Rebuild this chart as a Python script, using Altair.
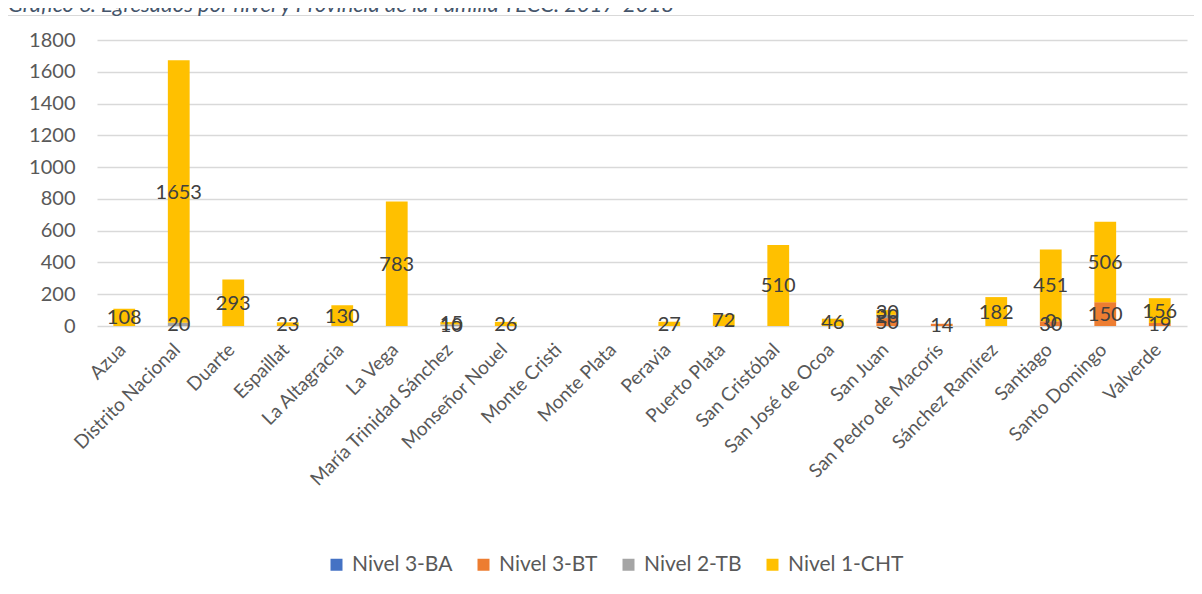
import altair as alt
import pandas as pd

title_text = "Gráfico 6. Egresados por nivel y Provincia de la Familia TECC. 2017-2018"

provinces = ["Azua", "Distrito Nacional", "Duarte", "Espaillat", "La Altagracia", "La Vega",
             "María Trinidad Sánchez", "Monseñor Nouel", "Monte Cristi", "Monte Plata", "Peravia",
             "Puerto Plata", "San Cristóbal", "San José de Ocoa", "San Juan", "San Pedro de Macorís",
             "Sánchez Ramírez", "Santiago", "Santo Domingo", "Valverde"]
series = ["Nivel 3-BA", "Nivel 3-BT", "Nivel 2-TB", "Nivel 1-CHT"]
colors = ["#4472C4", "#ED7D31", "#A5A5A5", "#FFC000"]

nivel3_ba = [None] * 20
nivel3_bt = [None, None, None, None, None, None, None, None, None, None,
             None, None, None, None, 50, 14, None, 30, 150, 19]
nivel2_tb = [None, 20, None, None, None, None, 10, None, None, None,
             None, None, None, None, 20, None, None, 0, None, None]
nivel1_cht = [108, 1653, 293, 23, 130, 783, 15, 26, None, None,
              27, 72, 510, 46, 30, None, 182, 451, 506, 156]
y_ticks = [0, 200, 400, 600, 800, 1000, 1200, 1400, 1600, 1800]

rows = []
for k, vals in enumerate([nivel3_ba, nivel3_bt, nivel2_tb, nivel1_cht]):
    for p, v in zip(provinces, vals):
        if v is not None:
            rows.append({"prov": p, "serie": series[k], "ord": k, "value": v})
df = pd.DataFrame(rows)

FONT = "Lato"
x_scale = alt.Scale(domain=provinces, paddingInner=0.6, paddingOuter=0.3)
x_axis = alt.Axis(title=None, labelAngle=-45, labelAlign="right", labelBaseline="top",
                  labelFontSize=19, labelColor="#595959", labelFont=FONT,
                  labelPadding=14, labelOffset=-8, ticks=False, domain=False, grid=False,
                  labelOverlap=False, labelLimit=400)
y_scale = alt.Scale(domain=[0, 1800], nice=False)
y_axis = alt.Axis(title=None, values=y_ticks, format="d", labelOverlap=False,
                  labelFontSize=20, labelColor="#595959",
                  labelFont=FONT, ticks=False, domain=False, labelPadding=22,
                  grid=True, gridColor="#D9D9D9", gridWidth=1.3)

bars = alt.Chart(df).mark_bar().encode(
    x=alt.X("prov:N", sort=provinces, scale=x_scale, axis=x_axis),
    y=alt.Y("value:Q", stack="zero", scale=y_scale, axis=y_axis),
    color=alt.Color("serie:N", scale=alt.Scale(domain=series, range=colors),
                    legend=alt.Legend(title=None, orient="none", direction="horizontal",
                                      legendX=229, legendY=514, symbolType="square",
                                      symbolSize=144, symbolStrokeWidth=0,
                                      labelFontSize=21, labelColor="#595959", labelFont=FONT,
                                      labelOffset=5, columnPadding=20)),
    order=alt.Order("ord:Q"),
)

labels = alt.Chart(df).transform_window(
    cum="sum(value)", groupby=["prov"], sort=[alt.SortField("ord")], frame=[None, 0]
).transform_calculate(
    mid="datum.cum - datum.value / 2"
).mark_text(fontSize=20, color="#404040", font=FONT, baseline="middle", dy=1).encode(
    x=alt.X("prov:N", sort=provinces, scale=x_scale, axis=x_axis),
    y=alt.Y("mid:Q", scale=y_scale, axis=y_axis),
    text=alt.Text("value:Q"),
)

frame = alt.Chart(pd.DataFrame({"a": [0]})).mark_rect(
    fill=None, stroke="#D9D9D9", strokeWidth=1
).encode(x=alt.value(-89.5), x2=alt.value(1300), y=alt.value(-24.5), y2=alt.value(700))

title = alt.Chart(pd.DataFrame({"t": [title_text]})).mark_text(
    align="left", baseline="alphabetic", fontSize=22, fontStyle="italic",
    font=FONT, color="#44546A"
).encode(x=alt.value(-89), y=alt.value(-28), text="t:N")

chart = alt.layer(frame, bars, labels, title).properties(
    width=1090, height=286,
    autosize=alt.AutoSizeParams(type="none"),
    padding={"left": 89, "top": 32, "right": 7, "bottom": 260},
).configure_view(stroke=None)

chart.save("out.html", embed_options={"renderer": "svg", "actions": False})
